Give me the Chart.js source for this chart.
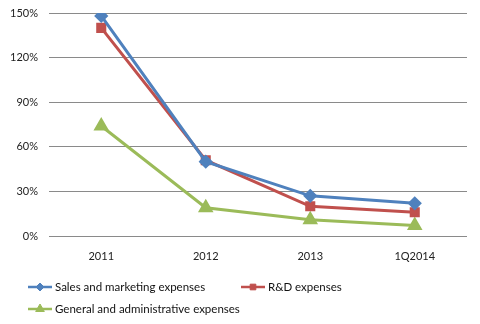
<!DOCTYPE html>
<html>
<head>
<meta charset="utf-8">
<script src="https://cdn.jsdelivr.net/npm/chart.js@4/dist/chart.umd.min.js"></script>
<style>
  html, body { margin: 0; padding: 0; background: #fff; }
  #wrap { width: 480px; height: 324px; position: relative; }
</style>
</head>
<body>
<div id="wrap"><canvas id="expChart" width="480" height="324"></canvas></div>
<script>
// periods and expense ratios (% of revenue)
var periods = ['2011', '2012', '2013', '1Q2014'];
var salesMarketing = [148, 50, 27, 22];
var researchDev = [140, 51, 20, 16];
var generalAdmin = [74, 19, 11, 7];
var yTicks = [0, 30, 60, 90, 120, 150];

var FONT = 'Lato, "Liberation Sans", sans-serif';

// legend drawn below the plot: a short line with the marker in the middle
var lineLegend = {
    id: 'lineLegend',
    afterDraw: function (chart) {
        var ctx = chart.ctx;
        var spots = [[28, 287], [241, 287], [28, 309]];
        chart.data.datasets.forEach(function (ds, i) {
            var x = spots[i][0], y = spots[i][1];
            ctx.save();
            ctx.strokeStyle = ds.borderColor;
            ctx.lineWidth = 2.5;
            ctx.beginPath();
            ctx.moveTo(x, y);
            ctx.lineTo(x + 24, y);
            ctx.stroke();
            ctx.fillStyle = ds.borderColor;
            ctx.strokeStyle = ds.borderColor;
            ctx.lineWidth = 1;
            Chart.helpers.drawPoint(ctx, {
                pointStyle: ds.pointStyle,
                radius: ds.pointRadius - 1,
                borderWidth: 1
            }, x + 12, y);
            ctx.fillStyle = '#111';
            ctx.font = '11.5px ' + FONT;
            ctx.textBaseline = 'middle';
            ctx.fillText(ds.label, x + 27, y);
            ctx.restore();
        });
    }
};

function series(label, data, color, style, r) {
    return {
        label: label,
        data: data,
        borderColor: color,
        backgroundColor: color,
        pointBackgroundColor: color,
        pointBorderColor: color,
        pointStyle: style,
        pointRadius: r,
        borderWidth: 3,
        tension: 0
    };
}

var canvas = document.getElementById('expChart');
new Chart(canvas.getContext('2d'), {
    type: 'line',
    data: {
        labels: periods,
        datasets: [
            series('Sales and marketing expenses', salesMarketing, '#4F81BD', 'rectRot', 5),
            series('R&D expenses', researchDev, '#C0504D', 'rect', 5),
            series('General and administrative expenses', generalAdmin, '#9BBB59', 'triangle', 6)
        ]
    },
    options: {
        responsive: false,
        animation: false,
        layout: { autoPadding: false, padding: { top: 13, right: 13, left: 0, bottom: 0 } },
        plugins: { legend: { display: false }, tooltip: { enabled: false } },
        scales: {
            x: {
                offset: true,
                grid: { display: false, drawTicks: false },
                border: { display: false },
                ticks: { color: '#222', font: { family: FONT, size: 11 }, padding: 14 },
                afterFit: function (s) { s.height = 88; }
            },
            y: {
                min: 0,
                max: 150,
                afterBuildTicks: function (s) {
                    s.ticks = yTicks.map(function (v) { return { value: v }; });
                },
                grid: { color: '#8a8a8a', lineWidth: 1, drawTicks: false },
                border: { display: false },
                ticks: {
                    color: '#222',
                    font: { family: FONT, size: 11 },
                    padding: 11,
                    callback: function (v) { return v + '%'; }
                },
                afterFit: function (s) { s.width = 49; s.paddingTop = 0; }
            }
        }
    },
    plugins: [lineLegend]
});
</script>
</body>
</html>
